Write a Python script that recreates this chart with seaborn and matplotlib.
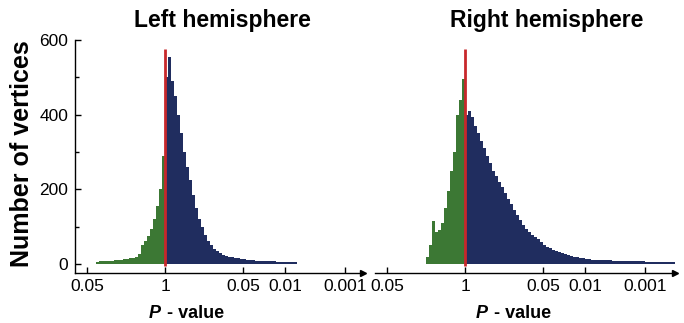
import numpy as np
import pandas as pd
import matplotlib
matplotlib.use("Agg")
import matplotlib.pyplot as plt
import seaborn as sns

sns.set_theme(style="white")
plt.rcParams['font.family'] = ['Liberation Sans', 'DejaVu Sans']
plt.rcParams['text.color'] = 'black'
plt.rcParams['xtick.color'] = 'black'
plt.rcParams['ytick.color'] = 'black'
plt.rcParams['axes.labelcolor'] = 'black'

# signed -log10(p) axis: tick positions and labels
tick_pos = [-1.301, 0.0, 1.301, 2.0, 3.0]
tick_labels = ["0.05", "1", "0.05", "0.01", "0.001"]
bin_width = 0.05

# Left hemisphere: first bin edge and counts per 0.05-wide bin
left_start = -1.15
left_counts = [6, 7, 7, 8, 8, 9, 10, 11, 12, 13, 14, 15, 17, 20, 28, 50, 62, 75, 95, 120,
               155, 200, 290,
               500, 555, 490, 450, 400, 350, 300, 260, 225, 185, 150, 120, 100, 78, 62, 50,
               40, 34, 29, 25, 22, 20, 18, 16, 15, 14, 13, 12, 11, 10, 9, 9, 8, 8, 7, 7,
               7, 6, 6, 6, 6, 5, 5, 5]

# Right hemisphere
right_start = -0.65
right_counts = [20, 50, 115, 85, 90, 110, 150, 195, 250, 300, 400, 440, 495,
                400, 410, 395, 370, 350, 330, 310, 290, 270, 250, 235, 220, 205, 190, 175,
                160, 145, 130, 118, 105, 95, 85, 78, 72, 66, 60, 52, 46, 42, 38, 35, 32,
                29, 26, 24, 22, 20, 18, 16, 15, 14, 13, 12, 12, 11, 11, 10, 10, 10, 9, 9,
                9, 8, 8, 8, 8, 7, 7, 7, 7, 6, 6, 6, 6, 6, 6, 5, 5, 5, 5]

GREEN = "#3c7834"
NAVY = "#202d5f"
RED = "#c8282b"


def make_df(start, counts):
    n = len(counts)
    edges = start + bin_width * np.arange(n + 1)
    centers = edges[:-1] + bin_width / 2
    side = np.where(centers < 0, "neg", "pos")
    return pd.DataFrame({"x": centers, "w": counts, "side": side}), [float(e) for e in edges]


fig = plt.figure(figsize=(6.84, 3.23), dpi=100)
axL = fig.add_axes([75 / 684, 50 / 323, 288 / 684, 233 / 323])
axR = fig.add_axes([375 / 684, 50 / 323, 300 / 684, 233 / 323])

panels = [(axL, left_start, left_counts, "Left hemisphere", (-1.5, 3.3), 222),
          (axR, right_start, right_counts, "Right hemisphere", (-1.5, 3.5), 547)]

for ax, start, counts, title, xl, tx in panels:
    df, edges = make_df(start, counts)
    sns.histplot(data=df, x="x", weights="w", hue="side", bins=edges,
                 palette={"neg": GREEN, "pos": NAVY}, element="bars",
                 linewidth=0, alpha=1, legend=False, ax=ax)
    ax.vlines(0, -6, 575, color=RED, lw=2, zorder=5)
    ax.set_xlim(*xl)
    ax.set_ylim(-24, 600)
    ax.set_xticks(tick_pos)
    ax.set_xticklabels(tick_labels, fontsize=12.5)
    ax.tick_params(axis="x", direction="in", length=4, width=1, color="black",
                   pad=4, bottom=True, labelcolor="black")
    ax.set_xlabel("")
    ax.set_ylabel("")
    for s in ["top", "right"]:
        ax.spines[s].set_visible(False)
    ax.spines["bottom"].set_color("black")
    ax.spines["bottom"].set_linewidth(1)
    ax.plot(1, -24, marker=">", color="black", markersize=4,
            transform=ax.get_yaxis_transform(), clip_on=False)
    fig.text(tx / 684, 1 - 20 / 323, title, fontsize=16.5, fontweight="bold",
             ha="center", va="center", color="black")

axL.spines["left"].set_color("black")
axL.spines["left"].set_linewidth(1)
axL.set_yticks([0, 200, 400, 600])
axL.set_yticks([100, 300, 500], minor=True)
axL.tick_params(axis="y", which="major", direction="in", length=4, width=1,
                color="black", labelsize=12.5, left=True, pad=5, labelcolor="black")
axL.tick_params(axis="y", which="minor", direction="in", length=3, width=1,
                color="black", left=True)
axL.spines["left"].set_bounds(-24, 600)

axR.spines["left"].set_visible(False)
axR.set_yticks([])

fig.text(22 / 684, 1 - 154 / 323, "Number of vertices", rotation=90,
         fontsize=18, fontweight="bold", ha="center", va="center", color="black")

for px_p, px_v in [(161, 167), (488, 494)]:
    fig.text(px_p / 684, 1 - 313 / 323, "P", fontsize=13, fontweight="bold",
             style="italic", ha="right", va="center", color="black")
    fig.text(px_v / 684, 1 - 313 / 323, "- value", fontsize=13, fontweight="bold",
             ha="left", va="center", color="black")

fig.savefig("out.png", dpi=100)
